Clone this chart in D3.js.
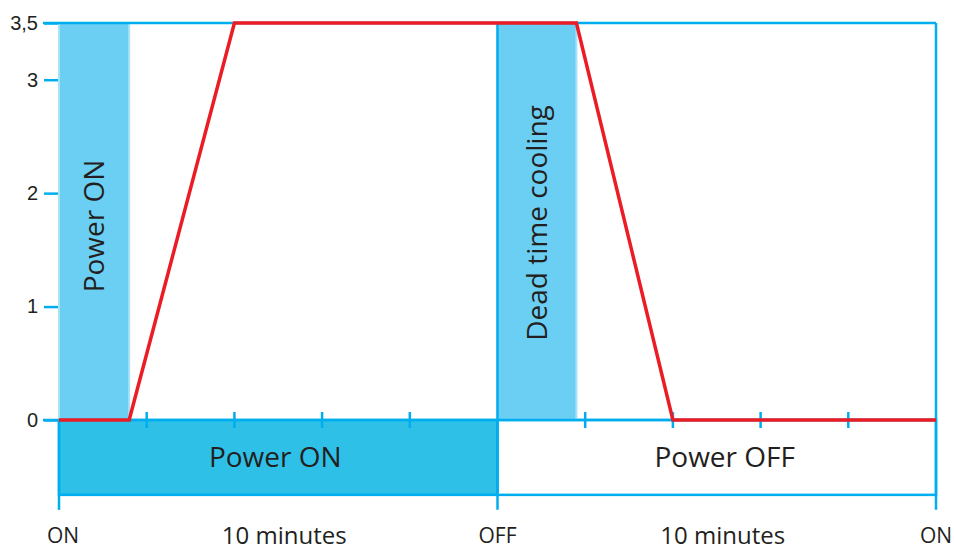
<!DOCTYPE html>
<html>
<head>
<meta charset="utf-8">
<script src="https://cdn.jsdelivr.net/npm/d3@7"></script>
<style>
  body { margin: 0; background: #fff; }
  text { fill: #231f20; }
</style>
</head>
<body>
<div id="chart"></div>
<script>
// data, time in minutes (0-20), value on the 0-3.5 scale
const yTicks = [0, 1, 2, 3, 3.5];
const yTickLabels = ["0", "1", "2", "3", "3,5"];
const minorTicks = [2, 4, 6, 8, 12, 14, 16, 18];
const majorTicks = [0, 10, 20];
const majorLabels = ["ON", "OFF", "ON"];
const spanLabelAt = [5, 15];
const spanLabels = ["10 minutes", "10 minutes"];
const curveTime = [0, 1.6, 4, 11.8, 14, 20];
const curveValue = [0, 0, 3.5, 3.5, 0, 0];
const phaseFrom = [0, 10];
const phaseTo = [10, 20];
const phaseNames = ["Power ON", "Power OFF"];
const phaseFill = ["#2fc0e8", "#ffffff"];
const blockFrom = [0, 10];
const blockTo = [1.6, 11.8];
const blockNames = ["Power ON", "Dead time cooling"];
const bandBottom = -0.66;

const width = 954, height = 551;
const blue = "#00aeef";

const svg = d3.select("#chart").append("svg")
  .attr("width", width)
  .attr("height", height);

const x = d3.scaleLinear().domain([0, 20]).range([59, 936]);
const y = d3.scaleLinear().domain([0, 3.5]).range([420, 23]);

//phase band under the 0 line
svg.selectAll(".phase")
  .data(phaseNames)
  .join("rect")
  .attr("class", "phase")
  .attr("x", (d, i) => x(phaseFrom[i]))
  .attr("y", y(0))
  .attr("width", (d, i) => x(phaseTo[i]) - x(phaseFrom[i]))
  .attr("height", y(bandBottom) - y(0))
  .attr("fill", (d, i) => phaseFill[i])
  .attr("stroke", blue)
  .attr("stroke-width", 2.5);

svg.selectAll(".phase-label")
  .data(phaseNames)
  .join("text")
  .attr("class", "phase-label")
  .attr("x", (d, i) => x((phaseFrom[i] + phaseTo[i]) / 2) + (i ? 8 : -3))
  .attr("y", (y(0) + y(bandBottom)) / 2 + 10)
  .attr("text-anchor", "middle")
  .attr("font-family", "Open Sans")
  .attr("font-size", "28px")
  .text(d => d);

//light blue blocks
svg.selectAll(".block")
  .data(blockNames)
  .join("rect")
  .attr("class", "block")
  .attr("x", (d, i) => x(blockFrom[i]))
  .attr("y", y(3.5))
  .attr("width", (d, i) => x(blockTo[i]) - x(blockFrom[i]))
  .attr("height", y(0) - y(3.5))
  .attr("fill", "#6bcff4")
  .attr("stroke", "#a8e2f8")
  .attr("stroke-width", 2);

svg.selectAll(".block-label")
  .data(blockNames)
  .join("text")
  .attr("class", "block-label")
  .attr("transform", (d, i) => `translate(${(x(blockFrom[i]) + x(blockTo[i])) / 2 + 10}, ${i ? 223 : 226}) rotate(-90)`)
  .attr("text-anchor", "middle")
  .attr("font-family", "Open Sans")
  .attr("font-size", "28px")
  .text(d => d);

//frame lines
svg.append("line")
  .attr("x1", 43).attr("x2", x(20))
  .attr("y1", y(3.5)).attr("y2", y(3.5))
  .attr("stroke", blue).attr("stroke-width", 2.5);

svg.append("line")
  .attr("x1", 43).attr("x2", x(20))
  .attr("y1", y(0)).attr("y2", y(0))
  .attr("stroke", blue).attr("stroke-width", 2.5);

svg.selectAll(".major")
  .data(majorTicks)
  .join("line")
  .attr("class", "major")
  .attr("x1", d => x(d)).attr("x2", d => x(d))
  .attr("y1", d => d === 0 ? y(0) : y(3.5))
  .attr("y2", y(bandBottom) + 15)
  .attr("stroke", blue).attr("stroke-width", 2.5);

//y axis
const yAxis = d3.axisLeft(y)
  .tickValues(yTicks)
  .tickFormat((d, i) => yTickLabels[i])
  .tickSize(14)
  .tickPadding(6);

svg.append("g")
  .attr("transform", `translate(${x(0) - 1}, 0)`)
  .call(yAxis)
  .call(g => g.select(".domain").remove())
  .call(g => g.selectAll("line").attr("stroke", blue).attr("stroke-width", 2.5))
  .call(g => g.selectAll("text")
    .attr("font-family", "Liberation Sans")
    .attr("font-size", "20px")
    .attr("fill", "#231f20"));

//small ticks on the 0 line
svg.selectAll(".minor")
  .data(minorTicks)
  .join("line")
  .attr("class", "minor")
  .attr("x1", d => x(d)).attr("x2", d => x(d))
  .attr("y1", y(0) - 8).attr("y2", y(0) + 8)
  .attr("stroke", blue).attr("stroke-width", 2.5);

//temperature curve
const line = d3.line()
  .x(d => x(d[0]))
  .y(d => y(d[1]));

svg.append("path")
  .datum(curveTime.map((t, i) => [t, curveValue[i]]))
  .attr("d", line)
  .attr("fill", "none")
  .attr("stroke", "#ec1c24")
  .attr("stroke-width", 3.5);

//bottom labels
svg.selectAll(".major-label")
  .data(majorLabels)
  .join("text")
  .attr("class", "major-label")
  .attr("x", (d, i) => x(majorTicks[i]) + (i === 0 ? 4 : 0))
  .attr("y", 543)
  .attr("text-anchor", "middle")
  .attr("font-family", "Open Sans")
  .attr("font-size", "21px")
  .text(d => d);

svg.selectAll(".span-label")
  .data(spanLabels)
  .join("text")
  .attr("class", "span-label")
  .attr("x", (d, i) => x(spanLabelAt[i]) + 6)
  .attr("y", 544)
  .attr("text-anchor", "middle")
  .attr("font-family", "Open Sans")
  .attr("font-size", "24px")
  .text(d => d);
</script>
</body>
</html>
